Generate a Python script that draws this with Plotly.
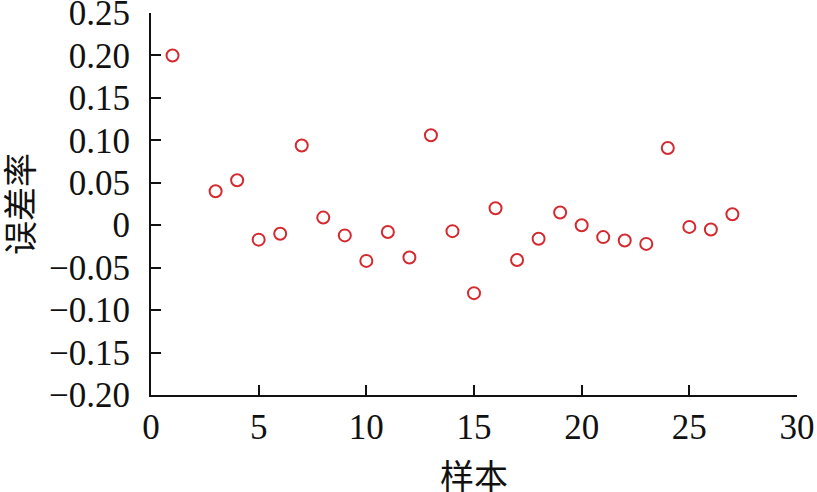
import plotly.graph_objects as go

samples = [1, 3, 4, 5, 6, 7, 8, 9, 10, 11, 12, 13, 14, 15, 16, 17, 18, 19, 20, 21, 22, 23, 24, 25, 26, 27]
error_rate = [0.200, 0.040, 0.053, -0.017, -0.010, 0.094, 0.009, -0.012, -0.042, -0.008, -0.038,
              0.106, -0.007, -0.080, 0.020, -0.041, -0.016, 0.015, 0.000, -0.014, -0.018, -0.022,
              0.091, -0.002, -0.005, 0.013]

y_ticks = [-0.20, -0.15, -0.10, -0.05, 0, 0.05, 0.10, 0.15, 0.20, 0.25]
y_ticktext = ["\u22120.20", "\u22120.15", "\u22120.10", "\u22120.05", "0", "0.05", "0.10", "0.15", "0.20", "0.25"]
x_ticks = [0, 5, 10, 15, 20, 25, 30]
x_title = "样本"
y_title = "误差率"

SERIF = "Liberation Serif, Times New Roman, serif"
CJK = "Noto Sans CJK SC, sans-serif"
INK = "#111"

fig = go.Figure()
fig.add_trace(go.Scatter(
    x=samples, y=error_rate, mode="markers",
    marker=dict(symbol="circle-open", size=12, color="#d42a2f", line=dict(width=2, color="#d42a2f")),
    cliponaxis=False, showlegend=False,
))

fig.update_layout(
    width=817, height=492,
    margin=dict(l=151, r=20, t=13, b=97),
    paper_bgcolor="white", plot_bgcolor="white",
    font=dict(family=SERIF, size=35, color=INK),
)
fig.update_xaxes(
    range=[0, 30], tickvals=x_ticks, ticks="inside", ticklen=10, tickwidth=2, tickcolor=INK,
    showline=True, linecolor=INK, linewidth=2, showgrid=False, zeroline=False, automargin=False,
    tickfont=dict(family=SERIF, size=35, color=INK), ticklabelstandoff=0, ticklabeloverflow="allow",
)
fig.update_yaxes(
    range=[-0.2000001, 0.2500001], tickvals=y_ticks, ticktext=y_ticktext, ticks="inside", ticklen=10,
    tickwidth=2, tickcolor=INK, showline=True, linecolor=INK, linewidth=2, showgrid=False,
    zeroline=False, automargin=False, ticklabeloverflow="allow",
    tickfont=dict(family=SERIF, size=35, color=INK), ticklabelstandoff=12,
)
fig.add_annotation(text=x_title, xref="paper", yref="paper", x=0.5, y=-0.209,
                   xanchor="center", yanchor="middle", showarrow=False,
                   font=dict(family=CJK, size=34, color=INK))
fig.add_annotation(text=y_title, xref="paper", yref="paper", x=-0.206, y=0.5, textangle=-90,
                   xanchor="center", yanchor="middle", showarrow=False,
                   font=dict(family=CJK, size=34, color=INK))

fig.write_html("out.html", config={"displayModeBar": False},
               post_script="document.body.style.margin='0';document.body.style.overflow='hidden';")
